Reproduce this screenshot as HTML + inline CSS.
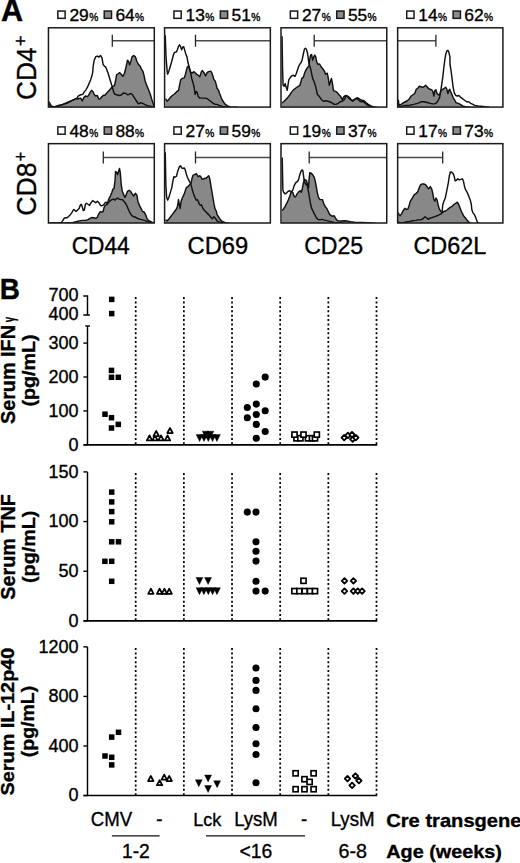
<!DOCTYPE html>
<html><head><meta charset="utf-8"><title>Figure</title>
<style>
html,body{margin:0;padding:0;background:#fff;}
body{width:520px;height:863px;overflow:hidden;}
svg{display:block;font-family:"Liberation Sans",sans-serif;fill:#000;}
text{stroke:#000;stroke-width:0.35px;}
</style></head>
<body>
<svg width="520" height="863" viewBox="0 0 520 863">
<defs><clipPath id="cp00"><rect x="48.45" y="27.8" width="105.85" height="79.3"/></clipPath><clipPath id="cp01"><rect x="164.6" y="27.8" width="105.75" height="79.3"/></clipPath><clipPath id="cp02"><rect x="281.0" y="27.8" width="105.75" height="79.3"/></clipPath><clipPath id="cp03"><rect x="397.65" y="27.8" width="105.25" height="79.3"/></clipPath><clipPath id="cp10"><rect x="48.45" y="143.65" width="105.85" height="79.35"/></clipPath><clipPath id="cp11"><rect x="164.6" y="143.65" width="105.75" height="79.35"/></clipPath><clipPath id="cp12"><rect x="281.0" y="143.65" width="105.75" height="79.35"/></clipPath><clipPath id="cp13"><rect x="397.65" y="143.65" width="105.25" height="79.35"/></clipPath></defs>
<rect width="520" height="863" fill="#fff"/>
<g clip-path="url(#cp00)"><polygon points="49.04,108.10 49.04,104.37 52.15,106.96 56.31,106.96 60.46,105.40 63.58,104.37 66.69,103.33 68.77,102.29 71.37,100.94 73.96,99.69 76.04,98.65 77.60,99.17 79.15,98.45 80.71,98.13 82.27,100.94 83.83,97.62 85.38,96.06 86.94,96.58 88.50,95.54 90.06,92.42 91.62,90.35 93.17,91.90 94.21,94.50 95.77,96.06 97.33,95.54 98.88,99.17 100.44,98.65 101.00,97.62 103.08,95.54 105.15,95.02 107.23,92.42 109.31,90.35 111.38,87.75 112.94,86.19 114.50,85.67 115.54,81.00 116.58,74.77 118.13,73.73 119.69,72.69 121.25,74.25 122.81,76.33 124.37,73.73 125.92,67.50 127.48,60.23 128.52,61.27 129.56,64.90 130.60,62.31 132.15,56.60 133.71,55.56 135.27,56.60 136.83,61.27 138.38,64.38 139.94,65.94 141.50,69.06 143.06,71.65 144.10,75.81 145.13,81.00 146.69,85.15 148.77,90.35 150.33,94.50 151.88,99.69 153.44,104.37 154.48,106.96 154.48,108.10 154.30,108.10" fill="#888888" stroke="none"/><polyline points="49.04,104.37 52.15,106.96 56.31,106.96 60.46,105.40 63.58,104.37 66.69,103.33 68.77,102.29 71.37,100.94 73.96,99.69 76.04,98.65 77.60,99.17 79.15,98.45 80.71,98.13 82.27,100.94 83.83,97.62 85.38,96.06 86.94,96.58 88.50,95.54 90.06,92.42 91.62,90.35 93.17,91.90 94.21,94.50 95.77,96.06 97.33,95.54 98.88,99.17 100.44,98.65 101.00,97.62 103.08,95.54 105.15,95.02 107.23,92.42 109.31,90.35 111.38,87.75 112.94,86.19 114.50,85.67 115.54,81.00 116.58,74.77 118.13,73.73 119.69,72.69 121.25,74.25 122.81,76.33 124.37,73.73 125.92,67.50 127.48,60.23 128.52,61.27 129.56,64.90 130.60,62.31 132.15,56.60 133.71,55.56 135.27,56.60 136.83,61.27 138.38,64.38 139.94,65.94 141.50,69.06 143.06,71.65 144.10,75.81 145.13,81.00 146.69,85.15 148.77,90.35 150.33,94.50 151.88,99.69 153.44,104.37 154.48,106.96" fill="none" stroke="#111" stroke-width="1.45" stroke-linejoin="round"/><polyline points="49.04,101.77 51.12,105.92 54.23,106.96 58.38,105.40 62.54,104.37 66.69,102.60 70.85,100.94 73.96,99.69 77.08,98.13 78.12,96.06 80.19,95.02 82.79,94.29 84.35,91.90 85.90,89.83 87.46,87.23 89.02,83.60 90.58,79.96 91.62,76.85 92.65,72.69 93.17,66.46 94.21,60.23 95.77,56.60 97.33,56.08 98.88,57.12 100.44,55.56 101.00,56.08 102.04,58.15 103.08,64.38 104.63,66.46 105.67,66.98 106.71,69.58 108.27,73.73 109.83,78.92 111.38,84.12 112.42,87.23 113.46,91.38 114.50,93.98 116.58,94.71 119.17,95.54 121.25,95.02 123.33,92.94 125.92,93.46 128.00,95.02 129.56,93.98 131.12,93.46 132.67,95.02 134.23,97.62 136.31,100.73 138.38,103.85 140.46,102.81 142.54,103.33 144.62,104.37 146.69,105.40 148.77,105.92 150.85,106.44 152.92,106.96 154.48,107.48" fill="none" stroke="#111" stroke-width="1.45" stroke-linejoin="round"/><path d="M112.30 40.70H154.00" stroke="#4a4a4a" stroke-width="1.35" fill="none"/><path d="M112.30 34.80V46.70" stroke="#262626" stroke-width="1.3" fill="none"/></g>
<rect x="48.45" y="27.8" width="105.85" height="79.3" fill="none" stroke="#1a1a1a" stroke-width="1.5"/>
<g transform="translate(101.38,27.8)"><rect x="-43.55" y="-16.75" width="7.3" height="7.3" fill="#fff" stroke="#1a1a1a" stroke-width="1.5"/><text x="-32" y="-6.5" font-size="17.4">29<tspan font-size="10.2" dx="0.4">%</tspan></text><rect x="2.85" y="-16.75" width="7.3" height="7.3" fill="#8c8c8c" stroke="#1a1a1a" stroke-width="1.5"/><text x="14.0" y="-6.5" font-size="17.4">64<tspan font-size="10.2" dx="0.4">%</tspan></text></g>
<g clip-path="url(#cp01)"><polygon points="165.56,108.10 165.56,98.65 167.12,101.25 168.67,99.69 170.23,97.62 172.31,95.54 174.38,93.98 176.46,91.90 178.54,90.35 179.58,85.15 180.62,79.96 182.17,78.40 184.25,77.88 185.29,74.77 186.33,70.62 187.37,66.98 188.40,65.94 189.44,68.54 190.48,71.65 192.04,73.21 193.60,71.65 195.15,72.69 196.71,74.25 198.27,75.29 199.83,76.85 201.38,71.65 202.42,70.62 203.98,72.69 205.54,75.81 207.10,72.69 208.65,71.65 210.73,71.13 211.77,72.69 212.81,75.81 213.85,79.44 215.40,81.52 216.44,85.67 217.00,88.27 218.56,90.35 219.60,93.46 221.15,97.62 222.71,100.73 224.79,103.85 227.38,105.92 230.50,106.96 237.77,107.27 237.77,108.10 270.35,108.10" fill="#888888" stroke="none"/><polyline points="165.56,98.65 167.12,101.25 168.67,99.69 170.23,97.62 172.31,95.54 174.38,93.98 176.46,91.90 178.54,90.35 179.58,85.15 180.62,79.96 182.17,78.40 184.25,77.88 185.29,74.77 186.33,70.62 187.37,66.98 188.40,65.94 189.44,68.54 190.48,71.65 192.04,73.21 193.60,71.65 195.15,72.69 196.71,74.25 198.27,75.29 199.83,76.85 201.38,71.65 202.42,70.62 203.98,72.69 205.54,75.81 207.10,72.69 208.65,71.65 210.73,71.13 211.77,72.69 212.81,75.81 213.85,79.44 215.40,81.52 216.44,85.67 217.00,88.27 218.56,90.35 219.60,93.46 221.15,97.62 222.71,100.73 224.79,103.85 227.38,105.92 230.50,106.96 237.77,107.27" fill="none" stroke="#111" stroke-width="1.45" stroke-linejoin="round"/><polyline points="165.25,35.31 166.08,58.15 167.12,70.62 167.63,74.25 168.67,71.65 170.23,66.46 171.79,61.27 173.35,55.04 174.38,52.44 176.46,51.92 177.50,49.33 178.54,46.21 179.58,44.86 180.62,46.73 181.65,49.85 182.69,47.25 183.73,46.73 184.77,50.37 185.81,54.00 187.05,57.12 187.88,62.31 188.92,65.94 189.96,69.58 190.79,73.73 191.83,78.92 193.08,83.08 194.12,87.23 195.15,94.50 196.19,91.38 197.23,92.42 198.27,96.58 199.83,98.13 202.42,98.13 205.02,98.13 207.10,98.65 209.17,100.21 211.25,101.77 213.33,103.33 215.40,104.37 217.00,104.37 219.08,105.40 222.19,106.44 225.31,106.96 229.46,107.27" fill="none" stroke="#111" stroke-width="1.45" stroke-linejoin="round"/><path d="M195.50 40.70H270.00" stroke="#4a4a4a" stroke-width="1.35" fill="none"/><path d="M195.50 34.80V46.70" stroke="#262626" stroke-width="1.3" fill="none"/></g>
<rect x="164.6" y="27.8" width="105.75" height="79.3" fill="none" stroke="#1a1a1a" stroke-width="1.5"/>
<g transform="translate(217.47,27.8)"><rect x="-43.55" y="-16.75" width="7.3" height="7.3" fill="#fff" stroke="#1a1a1a" stroke-width="1.5"/><text x="-32" y="-6.5" font-size="17.4">13<tspan font-size="10.2" dx="0.4">%</tspan></text><rect x="2.85" y="-16.75" width="7.3" height="7.3" fill="#8c8c8c" stroke="#1a1a1a" stroke-width="1.5"/><text x="14.0" y="-6.5" font-size="17.4">51<tspan font-size="10.2" dx="0.4">%</tspan></text></g>
<g clip-path="url(#cp02)"><polygon points="282.04,108.10 282.04,102.81 283.60,101.77 285.15,100.21 287.23,98.13 289.31,95.54 291.38,92.42 293.46,89.83 295.54,88.27 297.62,86.71 299.69,85.67 300.73,82.56 301.77,78.40 303.33,77.37 304.37,73.73 305.40,71.13 306.44,69.06 308.00,66.98 309.04,65.94 309.56,60.23 310.60,55.04 311.63,54.52 312.67,60.23 313.71,57.12 314.75,55.04 315.79,57.12 316.83,62.31 317.87,64.38 319.42,63.87 320.98,66.46 322.54,68.54 324.10,70.62 325.65,74.25 327.21,73.21 328.25,77.88 329.29,85.15 330.33,82.04 331.37,78.40 332.40,83.08 333.44,90.35 334.00,90.87 335.56,91.38 337.12,92.42 339.19,95.02 340.75,96.58 342.31,99.69 343.87,96.58 345.42,95.54 347.50,96.06 349.58,97.62 351.13,99.69 352.69,101.25 354.25,99.69 355.81,98.65 357.37,97.62 358.92,98.65 360.48,99.69 362.04,100.21 364.12,100.73 366.19,102.81 368.27,104.37 370.87,105.92 373.46,106.96 377.62,107.38 377.62,108.10 386.75,108.10" fill="#888888" stroke="none"/><polyline points="282.04,102.81 283.60,101.77 285.15,100.21 287.23,98.13 289.31,95.54 291.38,92.42 293.46,89.83 295.54,88.27 297.62,86.71 299.69,85.67 300.73,82.56 301.77,78.40 303.33,77.37 304.37,73.73 305.40,71.13 306.44,69.06 308.00,66.98 309.04,65.94 309.56,60.23 310.60,55.04 311.63,54.52 312.67,60.23 313.71,57.12 314.75,55.04 315.79,57.12 316.83,62.31 317.87,64.38 319.42,63.87 320.98,66.46 322.54,68.54 324.10,70.62 325.65,74.25 327.21,73.21 328.25,77.88 329.29,85.15 330.33,82.04 331.37,78.40 332.40,83.08 333.44,90.35 334.00,90.87 335.56,91.38 337.12,92.42 339.19,95.02 340.75,96.58 342.31,99.69 343.87,96.58 345.42,95.54 347.50,96.06 349.58,97.62 351.13,99.69 352.69,101.25 354.25,99.69 355.81,98.65 357.37,97.62 358.92,98.65 360.48,99.69 362.04,100.21 364.12,100.73 366.19,102.81 368.27,104.37 370.87,105.92 373.46,106.96 377.62,107.38" fill="none" stroke="#111" stroke-width="1.45" stroke-linejoin="round"/><polyline points="282.04,36.35 282.56,68.54 283.08,85.15 284.12,86.19 285.15,83.60 286.19,87.23 287.23,90.35 288.27,83.08 288.79,79.96 290.35,77.37 291.90,75.81 293.46,75.29 295.02,76.33 296.06,74.25 297.62,69.58 298.65,66.46 299.69,64.38 301.25,62.31 302.29,59.19 303.33,54.00 304.37,49.33 305.40,48.29 306.44,49.33 307.48,52.96 308.21,58.15 308.83,62.31 309.56,65.42 310.60,68.54 311.63,73.73 312.67,78.40 314.23,82.04 315.27,85.15 316.31,89.31 317.35,94.50 319.42,96.58 321.50,99.69 323.58,101.25 325.65,100.73 328.25,101.25 330.85,102.29 332.92,103.33 334.00,104.37 336.08,104.37 338.15,103.33 340.23,101.77 342.31,101.25 344.38,99.69 345.94,96.06 347.50,96.58 349.06,98.65 350.62,99.69 352.17,100.73 353.73,99.69 355.29,99.17 356.85,98.65 358.40,99.69 359.96,101.25 361.52,101.77 363.60,101.77 365.15,103.33 367.23,104.88 369.31,105.92 371.90,106.75 375.54,107.38" fill="none" stroke="#111" stroke-width="1.45" stroke-linejoin="round"/><path d="M314.20 40.70H387.00" stroke="#4a4a4a" stroke-width="1.35" fill="none"/><path d="M314.20 34.80V46.70" stroke="#262626" stroke-width="1.3" fill="none"/></g>
<rect x="281.0" y="27.8" width="105.75" height="79.3" fill="none" stroke="#1a1a1a" stroke-width="1.5"/>
<g transform="translate(333.88,27.8)"><rect x="-43.55" y="-16.75" width="7.3" height="7.3" fill="#fff" stroke="#1a1a1a" stroke-width="1.5"/><text x="-32" y="-6.5" font-size="17.4">27<tspan font-size="10.2" dx="0.4">%</tspan></text><rect x="2.85" y="-16.75" width="7.3" height="7.3" fill="#8c8c8c" stroke="#1a1a1a" stroke-width="1.5"/><text x="14.0" y="-6.5" font-size="17.4">55<tspan font-size="10.2" dx="0.4">%</tspan></text></g>
<g clip-path="url(#cp03)"><polygon points="398.25,108.10 398.25,103.85 399.08,104.88 401.15,104.37 403.23,102.81 405.31,101.77 407.38,100.73 409.46,98.65 411.02,96.06 412.58,95.02 414.13,93.98 415.17,92.42 416.21,89.31 417.77,88.27 419.33,86.19 420.88,86.71 422.44,87.23 424.00,86.71 425.56,85.15 427.12,86.71 428.67,88.79 430.23,89.31 431.79,89.83 432.83,91.38 433.87,96.06 434.90,90.35 435.94,89.83 436.98,93.46 438.02,94.50 439.58,95.02 441.13,90.35 442.69,89.31 444.25,88.27 445.81,87.23 446.85,89.31 447.88,93.46 448.92,90.35 449.96,89.31 450.00,90.35 451.56,93.46 453.12,97.62 454.67,100.21 456.23,102.81 458.31,103.33 460.38,104.37 462.46,105.92 465.58,106.75 470.77,107.17 481.15,107.38 481.15,108.10 502.90,108.10" fill="#888888" stroke="none"/><polyline points="398.25,103.85 399.08,104.88 401.15,104.37 403.23,102.81 405.31,101.77 407.38,100.73 409.46,98.65 411.02,96.06 412.58,95.02 414.13,93.98 415.17,92.42 416.21,89.31 417.77,88.27 419.33,86.19 420.88,86.71 422.44,87.23 424.00,86.71 425.56,85.15 427.12,86.71 428.67,88.79 430.23,89.31 431.79,89.83 432.83,91.38 433.87,96.06 434.90,90.35 435.94,89.83 436.98,93.46 438.02,94.50 439.58,95.02 441.13,90.35 442.69,89.31 444.25,88.27 445.81,87.23 446.85,89.31 447.88,93.46 448.92,90.35 449.96,89.31 450.00,90.35 451.56,93.46 453.12,97.62 454.67,100.21 456.23,102.81 458.31,103.33 460.38,104.37 462.46,105.92 465.58,106.75 470.77,107.17 481.15,107.38" fill="none" stroke="#111" stroke-width="1.45" stroke-linejoin="round"/><polyline points="398.25,99.69 399.08,105.92 401.15,106.44 403.23,105.92 405.31,105.40 407.38,105.40 409.46,105.40 411.54,104.68 413.62,104.37 415.69,103.85 417.77,103.33 419.85,102.29 421.92,101.77 424.00,101.77 426.08,102.29 428.15,102.81 430.23,103.33 432.31,103.85 434.38,103.85 436.46,102.81 438.02,100.73 439.58,97.62 440.62,91.38 441.65,85.15 442.69,77.88 443.73,68.54 444.77,60.23 445.81,54.00 446.85,50.88 447.88,50.37 448.92,52.44 449.96,57.12 450.00,64.38 451.04,70.62 452.08,78.92 453.12,87.23 454.15,92.42 455.71,95.54 457.27,96.06 458.83,95.54 460.38,97.10 462.46,98.65 464.54,100.21 466.62,101.77 468.69,101.77 470.77,103.33 472.85,104.37 474.92,105.40 478.04,105.92 481.15,106.23 485.31,106.75 489.46,107.17" fill="none" stroke="#111" stroke-width="1.45" stroke-linejoin="round"/><path d="M397.50 40.70H435.90" stroke="#4a4a4a" stroke-width="1.35" fill="none"/><path d="M435.90 34.80V46.70" stroke="#262626" stroke-width="1.3" fill="none"/></g>
<rect x="397.65" y="27.8" width="105.25" height="79.3" fill="none" stroke="#1a1a1a" stroke-width="1.5"/>
<g transform="translate(450.27,27.8)"><rect x="-43.55" y="-16.75" width="7.3" height="7.3" fill="#fff" stroke="#1a1a1a" stroke-width="1.5"/><text x="-32" y="-6.5" font-size="17.4">14<tspan font-size="10.2" dx="0.4">%</tspan></text><rect x="2.85" y="-16.75" width="7.3" height="7.3" fill="#8c8c8c" stroke="#1a1a1a" stroke-width="1.5"/><text x="14.0" y="-6.5" font-size="17.4">62<tspan font-size="10.2" dx="0.4">%</tspan></text></g>
<g clip-path="url(#cp10)"><polygon points="49.04,224.00 49.04,223.17 58.38,223.17 63.58,223.07 68.77,222.75 72.92,222.44 76.04,221.72 79.15,220.88 82.27,220.37 85.38,220.16 87.46,219.85 89.54,218.60 91.62,217.56 93.69,217.77 95.77,218.29 97.33,217.25 98.37,214.65 99.92,212.06 100.96,211.54 101.00,211.75 102.04,212.06 103.08,211.54 104.12,207.38 105.15,205.31 106.19,204.79 107.23,204.27 108.79,199.08 110.35,195.96 111.90,192.33 112.94,189.21 113.98,188.69 115.02,180.90 115.54,171.56 116.58,172.08 117.62,174.67 118.65,171.04 119.48,168.44 120.21,172.08 121.25,184.54 122.29,191.29 123.33,193.88 124.88,197.52 125.92,195.44 127.48,191.29 129.04,190.25 130.60,191.29 132.15,193.88 133.71,195.96 135.27,193.37 136.83,194.92 137.87,201.15 139.42,205.31 140.98,208.42 142.54,211.54 144.10,212.06 145.65,214.65 146.69,217.77 148.25,220.37 150.33,221.40 152.40,222.44 153.96,222.96 153.96,224.00 154.30,224.00" fill="#888888" stroke="none"/><polyline points="49.04,223.17 58.38,223.17 63.58,223.07 68.77,222.75 72.92,222.44 76.04,221.72 79.15,220.88 82.27,220.37 85.38,220.16 87.46,219.85 89.54,218.60 91.62,217.56 93.69,217.77 95.77,218.29 97.33,217.25 98.37,214.65 99.92,212.06 100.96,211.54 101.00,211.75 102.04,212.06 103.08,211.54 104.12,207.38 105.15,205.31 106.19,204.79 107.23,204.27 108.79,199.08 110.35,195.96 111.90,192.33 112.94,189.21 113.98,188.69 115.02,180.90 115.54,171.56 116.58,172.08 117.62,174.67 118.65,171.04 119.48,168.44 120.21,172.08 121.25,184.54 122.29,191.29 123.33,193.88 124.88,197.52 125.92,195.44 127.48,191.29 129.04,190.25 130.60,191.29 132.15,193.88 133.71,195.96 135.27,193.37 136.83,194.92 137.87,201.15 139.42,205.31 140.98,208.42 142.54,211.54 144.10,212.06 145.65,214.65 146.69,217.77 148.25,220.37 150.33,221.40 152.40,222.44 153.96,222.96" fill="none" stroke="#111" stroke-width="1.45" stroke-linejoin="round"/><polyline points="49.04,223.17 54.23,222.96 58.38,222.96 61.50,222.44 62.54,220.88 64.10,218.29 65.65,217.77 67.21,217.77 68.77,216.21 70.33,214.65 71.88,212.58 72.92,210.50 73.96,209.46 75.00,210.50 76.04,211.54 77.60,209.98 79.15,208.42 80.19,205.31 81.23,204.27 82.27,206.87 83.31,210.50 84.35,209.98 85.38,204.27 86.42,203.23 87.98,204.27 89.54,205.31 91.10,202.71 92.65,200.63 94.21,201.67 95.77,202.71 97.33,201.15 98.88,202.71 100.44,205.31 101.00,205.83 103.08,205.31 104.12,204.27 105.15,202.71 106.19,202.19 107.23,203.75 108.79,202.19 110.35,200.63 111.90,199.60 113.46,199.08 115.02,200.12 116.58,198.56 117.62,198.04 119.17,199.08 120.73,199.60 122.29,199.60 123.85,201.15 125.40,203.23 126.96,205.83 128.00,208.42 129.56,212.06 131.12,214.65 132.67,216.21 134.23,216.73 136.31,217.77 138.38,218.81 140.46,219.33 142.54,219.85 144.62,220.37 146.69,221.40 148.77,221.92 150.85,222.44 152.92,222.96" fill="none" stroke="#111" stroke-width="1.45" stroke-linejoin="round"/><path d="M103.30 157.50H154.00" stroke="#4a4a4a" stroke-width="1.35" fill="none"/><path d="M103.30 151.60V163.50" stroke="#262626" stroke-width="1.3" fill="none"/></g>
<rect x="48.45" y="143.65" width="105.85" height="79.35" fill="none" stroke="#1a1a1a" stroke-width="1.5"/>
<g transform="translate(101.38,143.65)"><rect x="-43.55" y="-16.75" width="7.3" height="7.3" fill="#fff" stroke="#1a1a1a" stroke-width="1.5"/><text x="-32" y="-6.5" font-size="17.4">48<tspan font-size="10.2" dx="0.4">%</tspan></text><rect x="2.85" y="-16.75" width="7.3" height="7.3" fill="#8c8c8c" stroke="#1a1a1a" stroke-width="1.5"/><text x="14.0" y="-6.5" font-size="17.4">88<tspan font-size="10.2" dx="0.4">%</tspan></text></g>
<g clip-path="url(#cp11)"><polygon points="165.56,224.00 165.56,219.85 167.12,220.88 168.67,219.33 170.23,217.25 171.79,215.17 173.35,213.10 174.90,211.02 176.46,208.94 177.50,206.35 178.54,199.60 179.06,203.23 180.10,208.42 181.13,201.15 182.69,197.00 184.25,193.88 185.29,190.77 186.33,187.65 187.88,186.62 189.44,185.06 191.00,183.50 192.04,178.31 193.08,175.19 194.63,174.67 196.19,173.63 197.23,175.19 198.27,176.75 199.83,175.71 200.87,176.75 201.90,178.83 202.94,179.35 204.50,178.31 206.06,178.31 207.62,176.75 208.65,175.71 209.69,178.31 210.73,184.54 211.77,190.77 212.81,197.00 213.85,203.23 214.88,208.42 216.44,211.54 217.00,214.65 218.56,216.73 220.12,219.33 222.19,221.40 225.31,222.75 229.46,223.27 229.46,224.00 270.35,224.00" fill="#888888" stroke="none"/><polyline points="165.56,219.85 167.12,220.88 168.67,219.33 170.23,217.25 171.79,215.17 173.35,213.10 174.90,211.02 176.46,208.94 177.50,206.35 178.54,199.60 179.06,203.23 180.10,208.42 181.13,201.15 182.69,197.00 184.25,193.88 185.29,190.77 186.33,187.65 187.88,186.62 189.44,185.06 191.00,183.50 192.04,178.31 193.08,175.19 194.63,174.67 196.19,173.63 197.23,175.19 198.27,176.75 199.83,175.71 200.87,176.75 201.90,178.83 202.94,179.35 204.50,178.31 206.06,178.31 207.62,176.75 208.65,175.71 209.69,178.31 210.73,184.54 211.77,190.77 212.81,197.00 213.85,203.23 214.88,208.42 216.44,211.54 217.00,214.65 218.56,216.73 220.12,219.33 222.19,221.40 225.31,222.75 229.46,223.27" fill="none" stroke="#111" stroke-width="1.45" stroke-linejoin="round"/><polyline points="165.25,152.35 165.87,184.54 166.60,197.00 167.63,200.12 168.67,198.04 170.23,192.85 171.79,187.65 172.83,181.42 173.87,176.75 174.90,177.27 176.46,176.23 177.50,172.08 178.54,168.96 179.58,166.37 180.62,165.85 181.65,167.92 182.69,168.44 184.25,167.92 185.29,170.00 186.33,174.15 187.37,177.27 188.92,180.38 190.48,183.50 191.52,186.62 192.56,190.77 193.60,193.88 195.15,198.04 196.19,200.12 197.23,199.60 198.27,201.15 199.31,204.27 200.35,205.31 201.38,204.79 202.94,208.42 204.50,210.50 206.06,212.06 207.62,213.62 209.69,215.69 211.25,217.77 212.29,218.81 213.85,216.73 214.88,217.77 216.44,219.85 217.00,220.88 219.08,221.92 222.19,222.75 225.31,223.27" fill="none" stroke="#111" stroke-width="1.45" stroke-linejoin="round"/><path d="M195.50 157.50H270.00" stroke="#4a4a4a" stroke-width="1.35" fill="none"/><path d="M195.50 151.60V163.50" stroke="#262626" stroke-width="1.3" fill="none"/></g>
<rect x="164.6" y="143.65" width="105.75" height="79.35" fill="none" stroke="#1a1a1a" stroke-width="1.5"/>
<g transform="translate(217.47,143.65)"><rect x="-43.55" y="-16.75" width="7.3" height="7.3" fill="#fff" stroke="#1a1a1a" stroke-width="1.5"/><text x="-32" y="-6.5" font-size="17.4">27<tspan font-size="10.2" dx="0.4">%</tspan></text><rect x="2.85" y="-16.75" width="7.3" height="7.3" fill="#8c8c8c" stroke="#1a1a1a" stroke-width="1.5"/><text x="14.0" y="-6.5" font-size="17.4">59<tspan font-size="10.2" dx="0.4">%</tspan></text></g>
<g clip-path="url(#cp12)"><polygon points="282.04,224.00 282.04,210.50 283.60,208.94 285.15,206.35 286.71,203.23 288.27,200.12 289.83,195.96 290.87,192.85 291.90,191.81 292.94,192.85 293.98,195.96 295.02,197.00 296.06,195.96 297.10,193.88 298.65,191.81 300.21,190.77 301.25,192.33 302.29,188.69 303.33,183.50 304.37,179.35 305.40,179.87 306.44,180.38 307.48,184.54 308.52,187.65 309.04,179.35 309.87,172.60 311.12,173.12 312.67,174.67 314.23,177.27 315.27,181.42 316.31,186.62 317.35,192.85 318.38,197.00 319.94,199.60 321.50,199.60 322.54,199.60 323.58,203.23 325.13,206.35 326.69,208.42 328.25,211.54 329.81,214.65 331.37,215.69 332.92,216.21 334.00,215.69 335.04,217.25 336.60,219.85 338.15,220.88 341.27,221.09 344.38,220.68 347.50,221.09 350.62,221.72 354.77,222.13 361.00,222.44 367.23,222.75 375.54,223.17 375.54,224.00 386.75,224.00" fill="#888888" stroke="none"/><polyline points="282.04,210.50 283.60,208.94 285.15,206.35 286.71,203.23 288.27,200.12 289.83,195.96 290.87,192.85 291.90,191.81 292.94,192.85 293.98,195.96 295.02,197.00 296.06,195.96 297.10,193.88 298.65,191.81 300.21,190.77 301.25,192.33 302.29,188.69 303.33,183.50 304.37,179.35 305.40,179.87 306.44,180.38 307.48,184.54 308.52,187.65 309.04,179.35 309.87,172.60 311.12,173.12 312.67,174.67 314.23,177.27 315.27,181.42 316.31,186.62 317.35,192.85 318.38,197.00 319.94,199.60 321.50,199.60 322.54,199.60 323.58,203.23 325.13,206.35 326.69,208.42 328.25,211.54 329.81,214.65 331.37,215.69 332.92,216.21 334.00,215.69 335.04,217.25 336.60,219.85 338.15,220.88 341.27,221.09 344.38,220.68 347.50,221.09 350.62,221.72 354.77,222.13 361.00,222.44 367.23,222.75 375.54,223.17" fill="none" stroke="#111" stroke-width="1.45" stroke-linejoin="round"/><polyline points="282.25,157.54 282.56,174.15 282.87,189.73 283.60,192.33 285.15,193.88 286.71,192.85 288.27,191.29 289.83,190.77 291.38,191.81 292.42,190.77 293.25,188.69 293.98,186.10 295.02,184.02 296.06,182.46 297.62,181.42 298.65,179.35 299.69,175.19 300.73,172.08 301.77,170.00 302.81,170.52 303.33,174.15 303.85,178.31 304.68,182.46 305.92,184.54 306.75,184.02 307.48,186.62 308.52,191.81 309.56,198.04 310.60,204.27 311.63,208.42 313.19,211.54 314.75,214.65 316.31,217.77 317.87,219.33 319.94,219.85 322.02,219.33 323.58,219.85 325.65,220.37 327.73,220.88 329.81,221.40 331.88,221.92 333.96,222.44 334.00,222.44 337.12,222.75 342.31,223.17" fill="none" stroke="#111" stroke-width="1.45" stroke-linejoin="round"/><path d="M309.20 157.50H387.00" stroke="#4a4a4a" stroke-width="1.35" fill="none"/><path d="M309.20 151.60V163.50" stroke="#262626" stroke-width="1.3" fill="none"/></g>
<rect x="281.0" y="143.65" width="105.75" height="79.35" fill="none" stroke="#1a1a1a" stroke-width="1.5"/>
<g transform="translate(333.88,143.65)"><rect x="-43.55" y="-16.75" width="7.3" height="7.3" fill="#fff" stroke="#1a1a1a" stroke-width="1.5"/><text x="-32" y="-6.5" font-size="17.4">19<tspan font-size="10.2" dx="0.4">%</tspan></text><rect x="2.85" y="-16.75" width="7.3" height="7.3" fill="#8c8c8c" stroke="#1a1a1a" stroke-width="1.5"/><text x="14.0" y="-6.5" font-size="17.4">37<tspan font-size="10.2" dx="0.4">%</tspan></text></g>
<g clip-path="url(#cp13)"><polygon points="398.04,224.00 398.04,212.58 399.08,214.65 400.12,215.69 401.67,213.62 403.23,210.50 404.79,208.42 406.35,209.46 407.90,208.94 408.94,206.35 409.98,202.19 411.02,200.12 412.58,197.52 414.13,194.92 416.21,193.37 417.77,191.81 418.81,188.69 420.37,185.06 421.92,184.02 424.00,184.02 426.08,185.06 427.63,187.65 428.67,188.69 430.23,186.62 431.79,189.21 432.83,193.88 433.87,199.60 434.90,201.15 435.94,198.04 436.98,199.60 438.02,204.27 439.06,208.42 440.62,211.02 442.17,212.58 443.73,211.54 445.29,211.02 446.85,209.98 448.92,208.42 450.00,207.38 452.08,206.35 454.15,204.27 455.71,203.23 457.27,202.19 458.31,203.75 459.87,207.38 461.42,211.54 463.50,215.69 465.58,218.29 467.65,220.88 469.73,222.96 471.81,223.27 471.81,224.00 502.90,224.00" fill="#888888" stroke="none"/><polyline points="398.04,212.58 399.08,214.65 400.12,215.69 401.67,213.62 403.23,210.50 404.79,208.42 406.35,209.46 407.90,208.94 408.94,206.35 409.98,202.19 411.02,200.12 412.58,197.52 414.13,194.92 416.21,193.37 417.77,191.81 418.81,188.69 420.37,185.06 421.92,184.02 424.00,184.02 426.08,185.06 427.63,187.65 428.67,188.69 430.23,186.62 431.79,189.21 432.83,193.88 433.87,199.60 434.90,201.15 435.94,198.04 436.98,199.60 438.02,204.27 439.06,208.42 440.62,211.02 442.17,212.58 443.73,211.54 445.29,211.02 446.85,209.98 448.92,208.42 450.00,207.38 452.08,206.35 454.15,204.27 455.71,203.23 457.27,202.19 458.31,203.75 459.87,207.38 461.42,211.54 463.50,215.69 465.58,218.29 467.65,220.88 469.73,222.96 471.81,223.27" fill="none" stroke="#111" stroke-width="1.45" stroke-linejoin="round"/><polyline points="398.04,221.92 400.12,222.96 403.23,222.75 406.35,221.92 409.46,221.40 412.58,220.68 415.69,220.37 418.29,219.85 420.88,219.85 423.48,218.29 425.04,216.73 426.60,217.77 428.15,219.33 429.71,218.29 431.79,217.77 433.87,216.94 435.94,216.21 438.54,215.17 440.62,214.13 441.65,213.62 442.17,211.54 442.69,205.31 443.73,201.67 445.29,198.04 446.33,192.85 447.37,187.65 448.40,182.46 449.44,175.19 450.48,172.60 450.00,172.28 451.56,172.08 453.12,173.63 454.15,176.23 455.19,180.90 456.23,180.38 457.79,178.83 459.35,179.87 460.90,179.35 462.46,178.83 463.50,181.42 464.54,186.62 465.58,189.73 467.13,192.33 468.69,195.96 470.25,200.12 471.29,204.27 471.81,209.46 472.85,212.58 474.40,214.65 475.44,216.73 476.48,219.85 477.52,222.44 479.08,223.27" fill="none" stroke="#111" stroke-width="1.45" stroke-linejoin="round"/><path d="M397.50 157.50H442.70" stroke="#4a4a4a" stroke-width="1.35" fill="none"/><path d="M442.70 151.60V163.50" stroke="#262626" stroke-width="1.3" fill="none"/></g>
<rect x="397.65" y="143.65" width="105.25" height="79.35" fill="none" stroke="#1a1a1a" stroke-width="1.5"/>
<g transform="translate(450.27,143.65)"><rect x="-43.55" y="-16.75" width="7.3" height="7.3" fill="#fff" stroke="#1a1a1a" stroke-width="1.5"/><text x="-32" y="-6.5" font-size="17.4">17<tspan font-size="10.2" dx="0.4">%</tspan></text><rect x="2.85" y="-16.75" width="7.3" height="7.3" fill="#8c8c8c" stroke="#1a1a1a" stroke-width="1.5"/><text x="14.0" y="-6.5" font-size="17.4">73<tspan font-size="10.2" dx="0.4">%</tspan></text></g>
<path d="M83.3 296H87.5V315M83.3 315H89.9" stroke="#000" stroke-width="1.45" fill="none"/>
<path d="M85.3 326H89.9" stroke="#000" stroke-width="1.45" fill="none"/>
<text x="78.5" y="300.85" font-size="18" text-anchor="end" font-weight="normal" >700</text>
<text x="78.5" y="319.9" font-size="18" text-anchor="end" font-weight="normal" >400</text>
<path d="M87.5 326V444.85" stroke="#000" stroke-width="1.45" fill="none"/><path d="M83.6 444.85H377.2" stroke="#000" stroke-width="1.6" fill="none"/><path d="M83.4 343.1H87.5" stroke="#000" stroke-width="1.4"/><text x="78.5" y="348.85" font-size="18" text-anchor="end" font-weight="normal" >300</text><path d="M83.4 377.0H87.5" stroke="#000" stroke-width="1.4"/><text x="78.5" y="382.75" font-size="18" text-anchor="end" font-weight="normal" >200</text><path d="M83.4 410.9H87.5" stroke="#000" stroke-width="1.4"/><text x="78.5" y="416.65" font-size="18" text-anchor="end" font-weight="normal" >100</text><path d="M83.4 444.85H87.5" stroke="#000" stroke-width="1.4"/><text x="78.5" y="450.6" font-size="18" text-anchor="end" font-weight="normal" >0</text>
<path d="M135.70 297.1V444" stroke="#000" stroke-width="1.75" stroke-dasharray="2 2.4" fill="none"/><path d="M183.86 297.1V444" stroke="#000" stroke-width="1.75" stroke-dasharray="2 2.4" fill="none"/><path d="M232.02 297.1V444" stroke="#000" stroke-width="1.75" stroke-dasharray="2 2.4" fill="none"/><path d="M280.18 297.1V444" stroke="#000" stroke-width="1.75" stroke-dasharray="2 2.4" fill="none"/><path d="M328.34 297.1V444" stroke="#000" stroke-width="1.75" stroke-dasharray="2 2.4" fill="none"/><path d="M376.50 297.1V444" stroke="#000" stroke-width="1.75" stroke-dasharray="2 2.4" fill="none"/>
<path d="M87.5 471.9V620.9" stroke="#000" stroke-width="1.45" fill="none"/><path d="M83.6 620.9H377.2" stroke="#000" stroke-width="1.6" fill="none"/><path d="M83.4 471.9H87.5" stroke="#000" stroke-width="1.4"/><text x="78.5" y="477.65" font-size="18" text-anchor="end" font-weight="normal" >150</text><path d="M83.4 521.57H87.5" stroke="#000" stroke-width="1.4"/><text x="78.5" y="527.32" font-size="18" text-anchor="end" font-weight="normal" >100</text><path d="M83.4 571.23H87.5" stroke="#000" stroke-width="1.4"/><text x="78.5" y="576.98" font-size="18" text-anchor="end" font-weight="normal" >50</text><path d="M83.4 620.9H87.5" stroke="#000" stroke-width="1.4"/><text x="78.5" y="626.65" font-size="18" text-anchor="end" font-weight="normal" >0</text>
<path d="M135.70 473.1V620" stroke="#000" stroke-width="1.75" stroke-dasharray="2 2.4" fill="none"/><path d="M183.86 473.1V620" stroke="#000" stroke-width="1.75" stroke-dasharray="2 2.4" fill="none"/><path d="M232.02 473.1V620" stroke="#000" stroke-width="1.75" stroke-dasharray="2 2.4" fill="none"/><path d="M280.18 473.1V620" stroke="#000" stroke-width="1.75" stroke-dasharray="2 2.4" fill="none"/><path d="M328.34 473.1V620" stroke="#000" stroke-width="1.75" stroke-dasharray="2 2.4" fill="none"/><path d="M376.50 473.1V620" stroke="#000" stroke-width="1.75" stroke-dasharray="2 2.4" fill="none"/>
<path d="M87.5 646.85V795.55" stroke="#000" stroke-width="1.45" fill="none"/><path d="M83.6 795.55H377.2" stroke="#000" stroke-width="1.6" fill="none"/><path d="M83.4 646.85H87.5" stroke="#000" stroke-width="1.4"/><text x="78.5" y="652.6" font-size="18" text-anchor="end" font-weight="normal" >1200</text><path d="M83.4 696.42H87.5" stroke="#000" stroke-width="1.4"/><text x="78.5" y="702.17" font-size="18" text-anchor="end" font-weight="normal" >800</text><path d="M83.4 745.98H87.5" stroke="#000" stroke-width="1.4"/><text x="78.5" y="751.73" font-size="18" text-anchor="end" font-weight="normal" >400</text><path d="M83.4 795.55H87.5" stroke="#000" stroke-width="1.4"/><text x="78.5" y="801.3" font-size="18" text-anchor="end" font-weight="normal" >0</text>
<path d="M135.70 648.0V795" stroke="#000" stroke-width="1.75" stroke-dasharray="2 2.4" fill="none"/><path d="M183.86 648.0V795" stroke="#000" stroke-width="1.75" stroke-dasharray="2 2.4" fill="none"/><path d="M232.02 648.0V795" stroke="#000" stroke-width="1.75" stroke-dasharray="2 2.4" fill="none"/><path d="M280.18 648.0V795" stroke="#000" stroke-width="1.75" stroke-dasharray="2 2.4" fill="none"/><path d="M328.34 648.0V795" stroke="#000" stroke-width="1.75" stroke-dasharray="2 2.4" fill="none"/><path d="M376.50 648.0V795" stroke="#000" stroke-width="1.75" stroke-dasharray="2 2.4" fill="none"/>
<rect x="108.95" y="296.65" width="5.5" height="5.5" fill="#000"/>
<rect x="108.95" y="310.85" width="5.5" height="5.5" fill="#000"/>
<rect x="108.75" y="367.65" width="5.5" height="5.5" fill="#000"/>
<rect x="108.75" y="374.55" width="5.5" height="5.5" fill="#000"/>
<rect x="115.55" y="374.55" width="5.5" height="5.5" fill="#000"/>
<rect x="102.25" y="411.45" width="5.5" height="5.5" fill="#000"/>
<rect x="108.75" y="414.95" width="5.5" height="5.5" fill="#000"/>
<rect x="115.55" y="421.65" width="5.5" height="5.5" fill="#000"/>
<rect x="108.75" y="425.25" width="5.5" height="5.5" fill="#000"/>
<path d="M149.50 435.38L152.18 440.42H146.82Z" fill="#fff" stroke="#000" stroke-width="1.75" stroke-linejoin="round"/>
<path d="M155.00 435.38L157.68 440.42H152.32Z" fill="#fff" stroke="#000" stroke-width="1.75" stroke-linejoin="round"/>
<path d="M161.00 435.38L163.68 440.42H158.32Z" fill="#fff" stroke="#000" stroke-width="1.75" stroke-linejoin="round"/>
<path d="M167.50 435.38L170.18 440.42H164.82Z" fill="#fff" stroke="#000" stroke-width="1.75" stroke-linejoin="round"/>
<path d="M156.20 430.98L158.88 436.02H153.52Z" fill="#fff" stroke="#000" stroke-width="1.75" stroke-linejoin="round"/>
<path d="M170.00 427.98L172.68 433.02H167.32Z" fill="#fff" stroke="#000" stroke-width="1.75" stroke-linejoin="round"/>
<path d="M202.30 431.20H209.20L205.75 438.20Z" fill="#000" stroke="#000" stroke-width="0.4" stroke-linejoin="round"/>
<path d="M206.90 431.20H213.80L210.35 438.20Z" fill="#000" stroke="#000" stroke-width="0.4" stroke-linejoin="round"/>
<path d="M196.15 434.60H203.05L199.60 441.60Z" fill="#000" stroke="#000" stroke-width="0.4" stroke-linejoin="round"/>
<path d="M200.55 434.60H207.45L204.00 441.60Z" fill="#000" stroke="#000" stroke-width="0.4" stroke-linejoin="round"/>
<path d="M204.85 434.60H211.75L208.30 441.60Z" fill="#000" stroke="#000" stroke-width="0.4" stroke-linejoin="round"/>
<path d="M209.15 434.60H216.05L212.60 441.60Z" fill="#000" stroke="#000" stroke-width="0.4" stroke-linejoin="round"/>
<path d="M213.45 434.60H220.35L216.90 441.60Z" fill="#000" stroke="#000" stroke-width="0.4" stroke-linejoin="round"/>
<circle cx="265.2" cy="377.1" r="3.55" fill="#000"/>
<circle cx="256.3" cy="384" r="3.55" fill="#000"/>
<circle cx="256.3" cy="404.1" r="3.55" fill="#000"/>
<circle cx="247.3" cy="407.5" r="3.55" fill="#000"/>
<circle cx="265.2" cy="410.8" r="3.55" fill="#000"/>
<circle cx="256.3" cy="414.5" r="3.55" fill="#000"/>
<circle cx="247.3" cy="417.7" r="3.55" fill="#000"/>
<circle cx="256.3" cy="424.4" r="3.55" fill="#000"/>
<circle cx="265.2" cy="431.5" r="3.55" fill="#000"/>
<circle cx="256.3" cy="438.2" r="3.55" fill="#000"/>
<rect x="293.93" y="435.73" width="5.15" height="5.15" fill="#fff" stroke="#000" stroke-width="1.65"/>
<rect x="297.82" y="435.73" width="5.15" height="5.15" fill="#fff" stroke="#000" stroke-width="1.65"/>
<rect x="305.43" y="435.73" width="5.15" height="5.15" fill="#fff" stroke="#000" stroke-width="1.65"/>
<rect x="309.43" y="435.73" width="5.15" height="5.15" fill="#fff" stroke="#000" stroke-width="1.65"/>
<rect x="312.43" y="435.73" width="5.15" height="5.15" fill="#fff" stroke="#000" stroke-width="1.65"/>
<rect x="291.93" y="432.03" width="5.15" height="5.15" fill="#fff" stroke="#000" stroke-width="1.65"/>
<rect x="300.93" y="432.03" width="5.15" height="5.15" fill="#fff" stroke="#000" stroke-width="1.65"/>
<rect x="314.23" y="432.03" width="5.15" height="5.15" fill="#fff" stroke="#000" stroke-width="1.65"/>
<path d="M344.20 435.00L346.90 437.70L344.20 440.40L341.50 437.70Z" fill="#fff" stroke="#000" stroke-width="1.8" stroke-linejoin="round"/>
<path d="M352.70 436.50L355.40 439.20L352.70 441.90L350.00 439.20Z" fill="#fff" stroke="#000" stroke-width="1.8" stroke-linejoin="round"/>
<path d="M355.80 435.00L358.50 437.70L355.80 440.40L353.10 437.70Z" fill="#fff" stroke="#000" stroke-width="1.8" stroke-linejoin="round"/>
<path d="M348.00 432.70L350.70 435.40L348.00 438.10L345.30 435.40Z" fill="#fff" stroke="#000" stroke-width="1.8" stroke-linejoin="round"/>
<path d="M352.00 431.90L354.70 434.60L352.00 437.30L349.30 434.60Z" fill="#fff" stroke="#000" stroke-width="1.8" stroke-linejoin="round"/>
<rect x="108.95" y="489.35" width="5.5" height="5.5" fill="#000"/>
<rect x="108.95" y="499.15" width="5.5" height="5.5" fill="#000"/>
<rect x="108.95" y="508.85" width="5.5" height="5.5" fill="#000"/>
<rect x="108.95" y="519.05" width="5.5" height="5.5" fill="#000"/>
<rect x="108.95" y="539.05" width="5.5" height="5.5" fill="#000"/>
<rect x="115.75" y="539.05" width="5.5" height="5.5" fill="#000"/>
<rect x="102.15" y="558.55" width="5.5" height="5.5" fill="#000"/>
<rect x="108.95" y="558.55" width="5.5" height="5.5" fill="#000"/>
<rect x="108.95" y="578.55" width="5.5" height="5.5" fill="#000"/>
<path d="M150.90 588.77L153.58 593.82H148.22Z" fill="#fff" stroke="#000" stroke-width="1.75" stroke-linejoin="round"/>
<path d="M159.60 588.77L162.28 593.82H156.92Z" fill="#fff" stroke="#000" stroke-width="1.75" stroke-linejoin="round"/>
<path d="M164.40 588.77L167.08 593.82H161.72Z" fill="#fff" stroke="#000" stroke-width="1.75" stroke-linejoin="round"/>
<path d="M169.20 588.77L171.88 593.82H166.52Z" fill="#fff" stroke="#000" stroke-width="1.75" stroke-linejoin="round"/>
<path d="M196.00 577.50H202.90L199.45 584.50Z" fill="#000" stroke="#000" stroke-width="0.4" stroke-linejoin="round"/>
<path d="M204.65 577.50H211.55L208.10 584.50Z" fill="#000" stroke="#000" stroke-width="0.4" stroke-linejoin="round"/>
<path d="M196.05 587.70H202.95L199.50 594.70Z" fill="#000" stroke="#000" stroke-width="0.4" stroke-linejoin="round"/>
<path d="M200.45 587.70H207.35L203.90 594.70Z" fill="#000" stroke="#000" stroke-width="0.4" stroke-linejoin="round"/>
<path d="M204.85 587.70H211.75L208.30 594.70Z" fill="#000" stroke="#000" stroke-width="0.4" stroke-linejoin="round"/>
<path d="M209.15 587.70H216.05L212.60 594.70Z" fill="#000" stroke="#000" stroke-width="0.4" stroke-linejoin="round"/>
<path d="M213.50 587.70H220.40L216.95 594.70Z" fill="#000" stroke="#000" stroke-width="0.4" stroke-linejoin="round"/>
<circle cx="247.3" cy="512.1" r="3.55" fill="#000"/>
<circle cx="256" cy="512.1" r="3.55" fill="#000"/>
<circle cx="256" cy="541.8" r="3.55" fill="#000"/>
<circle cx="256" cy="551.3" r="3.55" fill="#000"/>
<circle cx="256" cy="561.1" r="3.55" fill="#000"/>
<circle cx="256" cy="581.3" r="3.55" fill="#000"/>
<circle cx="256" cy="591.1" r="3.55" fill="#000"/>
<circle cx="265.2" cy="591.1" r="3.55" fill="#000"/>
<rect x="300.93" y="578.23" width="5.15" height="5.15" fill="#fff" stroke="#000" stroke-width="1.65"/>
<rect x="291.82" y="588.53" width="5.15" height="5.15" fill="#fff" stroke="#000" stroke-width="1.65"/>
<rect x="296.82" y="588.53" width="5.15" height="5.15" fill="#fff" stroke="#000" stroke-width="1.65"/>
<rect x="302.12" y="588.53" width="5.15" height="5.15" fill="#fff" stroke="#000" stroke-width="1.65"/>
<rect x="307.43" y="588.53" width="5.15" height="5.15" fill="#fff" stroke="#000" stroke-width="1.65"/>
<rect x="312.43" y="588.53" width="5.15" height="5.15" fill="#fff" stroke="#000" stroke-width="1.65"/>
<path d="M344.50 578.10L347.20 580.80L344.50 583.50L341.80 580.80Z" fill="#fff" stroke="#000" stroke-width="1.8" stroke-linejoin="round"/>
<path d="M353.40 578.10L356.10 580.80L353.40 583.50L350.70 580.80Z" fill="#fff" stroke="#000" stroke-width="1.8" stroke-linejoin="round"/>
<path d="M344.50 588.40L347.20 591.10L344.50 593.80L341.80 591.10Z" fill="#fff" stroke="#000" stroke-width="1.8" stroke-linejoin="round"/>
<path d="M353.40 588.40L356.10 591.10L353.40 593.80L350.70 591.10Z" fill="#fff" stroke="#000" stroke-width="1.8" stroke-linejoin="round"/>
<path d="M357.80 588.40L360.50 591.10L357.80 593.80L355.10 591.10Z" fill="#fff" stroke="#000" stroke-width="1.8" stroke-linejoin="round"/>
<path d="M362.10 588.40L364.80 591.10L362.10 593.80L359.40 591.10Z" fill="#fff" stroke="#000" stroke-width="1.8" stroke-linejoin="round"/>
<rect x="115.75" y="729.55" width="5.5" height="5.5" fill="#000"/>
<rect x="108.95" y="734.35" width="5.5" height="5.5" fill="#000"/>
<rect x="102.25" y="753.25" width="5.5" height="5.5" fill="#000"/>
<rect x="108.95" y="754.55" width="5.5" height="5.5" fill="#000"/>
<rect x="108.95" y="762.15" width="5.5" height="5.5" fill="#000"/>
<path d="M150.80 775.98L153.48 781.02H148.12Z" fill="#fff" stroke="#000" stroke-width="1.75" stroke-linejoin="round"/>
<path d="M159.60 780.18L162.28 785.23H156.92Z" fill="#fff" stroke="#000" stroke-width="1.75" stroke-linejoin="round"/>
<path d="M164.20 774.58L166.88 779.62H161.52Z" fill="#fff" stroke="#000" stroke-width="1.75" stroke-linejoin="round"/>
<path d="M169.20 775.98L171.88 781.02H166.52Z" fill="#fff" stroke="#000" stroke-width="1.75" stroke-linejoin="round"/>
<path d="M195.35 779.80H202.25L198.80 786.80Z" fill="#000" stroke="#000" stroke-width="0.4" stroke-linejoin="round"/>
<path d="M204.65 775.00H211.55L208.10 782.00Z" fill="#000" stroke="#000" stroke-width="0.4" stroke-linejoin="round"/>
<path d="M204.65 785.50H211.55L208.10 792.50Z" fill="#000" stroke="#000" stroke-width="0.4" stroke-linejoin="round"/>
<path d="M213.65 780.70H220.55L217.10 787.70Z" fill="#000" stroke="#000" stroke-width="0.4" stroke-linejoin="round"/>
<circle cx="256" cy="668" r="3.55" fill="#000"/>
<circle cx="256" cy="680.4" r="3.55" fill="#000"/>
<circle cx="256" cy="690.4" r="3.55" fill="#000"/>
<circle cx="256" cy="708.7" r="3.55" fill="#000"/>
<circle cx="256" cy="727.5" r="3.55" fill="#000"/>
<circle cx="256" cy="743.7" r="3.55" fill="#000"/>
<circle cx="256" cy="754.5" r="3.55" fill="#000"/>
<circle cx="256" cy="782.7" r="3.55" fill="#000"/>
<rect x="293.03" y="770.73" width="5.15" height="5.15" fill="#fff" stroke="#000" stroke-width="1.65"/>
<rect x="311.03" y="770.73" width="5.15" height="5.15" fill="#fff" stroke="#000" stroke-width="1.65"/>
<rect x="301.93" y="776.63" width="5.15" height="5.15" fill="#fff" stroke="#000" stroke-width="1.65"/>
<rect x="307.03" y="779.33" width="5.15" height="5.15" fill="#fff" stroke="#000" stroke-width="1.65"/>
<rect x="293.03" y="786.63" width="5.15" height="5.15" fill="#fff" stroke="#000" stroke-width="1.65"/>
<rect x="301.93" y="786.63" width="5.15" height="5.15" fill="#fff" stroke="#000" stroke-width="1.65"/>
<rect x="311.03" y="786.63" width="5.15" height="5.15" fill="#fff" stroke="#000" stroke-width="1.65"/>
<path d="M347.50 776.00L350.20 778.70L347.50 781.40L344.80 778.70Z" fill="#fff" stroke="#000" stroke-width="1.8" stroke-linejoin="round"/>
<path d="M355.40 773.30L358.10 776.00L355.40 778.70L352.70 776.00Z" fill="#fff" stroke="#000" stroke-width="1.8" stroke-linejoin="round"/>
<path d="M358.90 777.90L361.60 780.60L358.90 783.30L356.20 780.60Z" fill="#fff" stroke="#000" stroke-width="1.8" stroke-linejoin="round"/>
<path d="M352.10 782.70L354.80 785.40L352.10 788.10L349.40 785.40Z" fill="#fff" stroke="#000" stroke-width="1.8" stroke-linejoin="round"/>
<path d="M111.9 835.8H159.6M206 835.8H305" stroke="#111" stroke-width="1.3"/>
<text id="LA" transform="translate(1.12,21.34) scale(0.9966,1)" font-size="30.71" font-weight="bold">A</text>
<text id="LB" transform="translate(-0.34,299.17) scale(0.9338,1)" font-size="29.90" font-weight="bold">B</text>
<text id="LCD44" transform="translate(71.65,254.34) scale(0.9436,1)" font-size="24.09">CD44</text>
<text id="LCD69" transform="translate(187.49,254.25) scale(0.9729,1)" font-size="24.41">CD69</text>
<text id="LCD25" transform="translate(304.17,254.25) scale(0.9464,1)" font-size="24.41">CD25</text>
<text id="LCD62L" transform="translate(413.41,254.48) scale(0.9891,1)" font-size="23.71">CD62L</text>
<text id="LCMV" transform="translate(90.85,826.34) scale(0.8909,1)" font-size="20.92">CMV</text>
<text id="LLck" transform="translate(193.28,825.73) scale(0.9523,1)" font-size="18.96">Lck</text>
<text id="LLysM1" transform="translate(234.13,825.78) scale(0.8941,1)" font-size="20.78">LysM</text>
<text id="LLysM2" transform="translate(330.65,825.74) scale(0.9529,1)" font-size="19.66">LysM</text>
<text id="L12" transform="translate(121.99,858.20) scale(0.9375,1)" font-size="20.56">1-2</text>
<text id="L16" transform="translate(239.45,858.04) scale(0.9499,1)" font-size="20.35">&lt;16</text>
<text id="L68" transform="translate(338.54,858.45) scale(0.9589,1)" font-size="20.58">6-8</text>
<text id="LAge" transform="translate(386.26,858.41) scale(1.0415,1)" font-size="19.04" font-weight="bold">Age (weeks)</text>
<text id="LCD4" transform="translate(36.30,100.09) rotate(-90) scale(0.9470,1)" font-size="27.82">CD4</text>
<text id="LCD8" transform="translate(36.04,215.72) rotate(-90) scale(0.9806,1)" font-size="27.10">CD8</text>
<text id="Lp4" transform="translate(27.46,46.32) rotate(-90) scale(1.0020,1)" font-size="18.55">+</text>
<text id="Lp8" transform="translate(27.02,161.23) rotate(-90) scale(0.8881,1)" font-size="17.90">+</text>
<text id="LIFN" transform="translate(14.90,424.05) rotate(-90) scale(1.0173,1)" font-size="19.48" font-weight="bold">Serum IFN</text>
<text id="Lgam" transform="translate(15.24,322.14) rotate(-90) scale(0.5504,1)" font-size="17.41" font-weight="bold">&#947;</text>
<text id="Lpg1" transform="translate(35.22,406.43) rotate(-90) scale(1.0512,1)" font-size="18.69" font-weight="bold">(pg/mL)</text>
<text id="LTNF" transform="translate(14.88,599.65) rotate(-90) scale(1.0137,1)" font-size="19.52" font-weight="bold">Serum TNF</text>
<text id="Lpg2" transform="translate(34.58,582.95) rotate(-90) scale(1.0311,1)" font-size="19.15" font-weight="bold">(pg/mL)</text>
<text id="LIL" transform="translate(14.24,795.47) rotate(-90) scale(1.0901,1)" font-size="18.22" font-weight="bold">Serum IL-12p40</text>
<text id="Lpg3" transform="translate(34.08,757.28) rotate(-90) scale(1.0188,1)" font-size="19.17" font-weight="bold">(pg/mL)</text>
<text transform="translate(159.25,826.34) scale(0.8909,1)" font-size="20.92" text-anchor="middle">-</text>
<text transform="translate(304.00,826.34) scale(0.8909,1)" font-size="20.92" text-anchor="middle">-</text>
<text transform="translate(386.26,826.81) scale(1.0571,1)" font-size="19.04" font-weight="bold">Cre transgene</text>
</svg>
</body></html>
